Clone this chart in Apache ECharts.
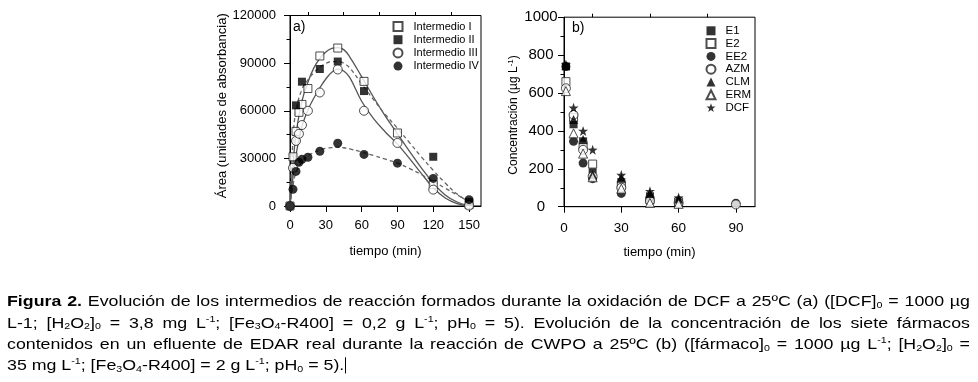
<!DOCTYPE html>
<html><head><meta charset="utf-8">
<script src="https://cdn.jsdelivr.net/npm/echarts@6/dist/echarts.min.js"></script>
<style>
html,body{margin:0;padding:0;background:#fff;}
#chart{position:absolute;left:0;top:0;width:978px;height:382px;}
#cap{position:absolute;left:7px;top:291px;width:963px;font-family:"Liberation Sans",Arial,sans-serif;font-size:17.8px;color:#000;transform:scaleY(0.85);transform-origin:0 0;}
#cap .ln{height:25px;line-height:25px;white-space:nowrap;}
#cap .ln span.t{display:inline-block;white-space:nowrap;}
#cap sub,#cap sup{font-size:0.6em;line-height:0;}
#cap sub{vertical-align:-0.2em;}
#cap sup{vertical-align:0.65em;}
.caret{display:inline-block;width:1px;height:19px;background:#000;vertical-align:-4px;margin-left:1px;}
</style>
</head>
<body>
<div id="chart"></div>
<div id="cap">
<div class="ln"><span class="t j"><b>Figura 2.</b> Evolución de los intermedios de reacción formados durante la oxidación de DCF a 25ºC (a) ([DCF]<sub>0</sub> = 1000 µg</span></div>
<div class="ln"><span class="t j">L-1; [H<sub>2</sub>O<sub>2</sub>]<sub>0</sub> = 3,8 mg L<sup>-1</sup>; [Fe<sub>3</sub>O<sub>4</sub>-R400] = 0,2 g L<sup>-1</sup>; pH<sub>0</sub> = 5). Evolución de la concentración de los siete fármacos</span></div>
<div class="ln"><span class="t j">contenidos en un efluente de EDAR real durante la reacción de CWPO a 25ºC (b) ([fármaco]<sub>0</sub> = 1000 µg L<sup>-1</sup>; [H<sub>2</sub>O<sub>2</sub>]<sub>0</sub> =</span></div>
<div class="ln"><span class="t">35 mg L<sup>-1</sup>; [Fe<sub>3</sub>O<sub>4</sub>-R400] = 2 g L<sup>-1</sup>; pH<sub>0</sub> = 5).</span><span class="caret"></span></div>
</div>
<script>
// ---------- Panel a) data ----------
const timesA = [0, 2.5, 5, 7.5, 10, 15, 25, 40, 62, 90, 120, 150];
const intI   = [0, 31000, 47000, 59000, 64000, 74000, 94500, 99500, 78500, 46000, 13500, 800];
const intIII = [0, 24000, 41000, 45500, 51000, 60000, 71500, 86000, 60000, 39700, 10300, 300];
const intIV  = [0, 10500, 21800, 27500, 29400, 30700, 34500, 39500, 32500, 27000, 17400, 4000];
const timesII = [5, 10, 25, 40, 62, 120, 150];
const intII   = [63400, 78300, 86300, 91000, 72400, 31000, 2500];
// fitted curves
const fitTimes = [0, 2.5, 5, 10, 15, 20, 25, 30, 35, 40, 45, 50, 60, 70, 80, 90, 100, 110, 120, 130, 140, 150];
const fitI   = [0, 26000, 45000, 66000, 78000, 87000, 93000, 97000, 99300, 99800, 98500, 94000, 81500, 68500, 56500, 45500, 34500, 24000, 14500, 7000, 2500, 200];
const fitII  = [0, 42000, 60000, 73500, 79500, 84000, 87500, 89800, 91000, 91000, 90000, 87000, 77000, 67000, 57500, 49000, 40000, 31000, 22500, 14500, 7500, 2500];
const fitIII = [0, 18000, 32000, 50000, 60500, 68000, 74500, 80000, 84300, 86200, 85000, 81000, 66000, 55000, 46500, 39000, 30000, 20500, 11500, 5000, 1500, 0];
const fitIV  = [0, 13000, 21000, 28000, 31500, 33800, 35300, 36300, 36800, 37000, 36700, 36000, 34000, 31800, 29500, 27000, 23700, 19800, 15600, 11200, 7000, 3000];
const ticksA = [0, 30, 60, 90, 120, 150];
const minorA = [15, 45, 75, 105, 135];

// ---------- Panel b) data ----------
const timesB   = [1, 5, 10, 15, 30, 45, 60];
const timesB90 = [1, 5, 10, 15, 30, 45, 60, 90];
const E1  = [740, 435, 345, 182, 130, 55, 25];
const E2  = [660, 470, 325, 225, 115, 35, 25];
const EE2 = [740, 345, 230, 148, 70, 40, 20, 18];
const AZM = [625, 485, 300, 160, 100, 30, 20, 12];
const CLM = [745, 460, 355, 168, 150, 70, 40];
const ERM = [610, 387, 280, 155, 95, 20, 15];
const DCF = [750, 522, 400, 300, 167, 82, 48];
const ticksB = [0, 30, 60, 90];
const minorB = [15, 45, 75];

const FONT = '"Liberation Sans", Arial, sans-serif';
const zip = (xs, ys) => ys.map((v, i) => [xs[i], v]);
const plain = v => String(v);
const STAR = 'path://M0,-10L2.35,-3.24L9.51,-3.09L3.8,1.24L5.88,8.09L0,4L-5.88,8.09L-3.8,1.24L-9.51,-3.09L-2.35,-3.24Z';
const openStyle = {color: '#fff', borderColor: '#222', borderWidth: 1};
const fillStyle = {color: '#000', borderColor: '#000', borderWidth: 0};

function fitLine(data, dashed) {
  return {type: 'line', xAxisIndex: 0, yAxisIndex: 0, data: zip(fitTimes, data), smooth: 0.4,
    showSymbol: false, symbol: 'none', silent: true, z: 2,
    lineStyle: {color: dashed ? '#666' : '#555', width: 1.3, type: dashed ? [4, 3] : 'solid'}};
}
function scat(name, xi, yi, data, symbol, size, style) {
  return {type: 'scatter', name, xAxisIndex: xi, yAxisIndex: yi, data, symbol, symbolSize: size,
    itemStyle: style, z: 3, silent: true};
}
const axisTxt = {color: '#000', fontFamily: FONT, fontSize: 13};
const line = {show: true, lineStyle: {color: '#000', width: 1}};

const option = {
  animation: false,
  backgroundColor: '#fff',
  grid: [
    {left: 290, top: 15.5, width: 191, height: 190.5, show: true, borderColor: '#000', borderWidth: 1},
    {left: 564, top: 17.2, width: 191, height: 189.5, show: true, borderColor: '#000', borderWidth: 1}
  ],
  xAxis: [
    {gridIndex: 0, type: 'value', min: 0, max: 160, interval: 30, name: 'tiempo (min)', nameLocation: 'middle', nameGap: 39,
     nameTextStyle: axisTxt, axisLine: line, axisTick: {show: true, length: 6, customValues: ticksA, lineStyle: {color: '#000'}},
     axisLabel: {customValues: ticksA, margin: 13, formatter: plain, ...axisTxt}, splitLine: {show: false}},
    {gridIndex: 1, type: 'value', min: 0, max: 100, interval: 30, name: 'tiempo (min)', nameLocation: 'middle', nameGap: 39,
     nameTextStyle: axisTxt, axisLine: line, axisTick: {show: true, length: 6, customValues: ticksB, lineStyle: {color: '#000'}},
     axisLabel: {customValues: ticksB, margin: 15, formatter: plain, ...axisTxt, fontSize: 13.5}, splitLine: {show: false}},
    {gridIndex: 0, type: 'value', min: 0, max: 160, axisLine: {show: false}, axisLabel: {show: false}, splitLine: {show: false},
     axisTick: {show: true, length: 3.5, customValues: minorA, lineStyle: {color: '#000'}}},
    {gridIndex: 1, type: 'value', min: 0, max: 100, axisLine: {show: false}, axisLabel: {show: false}, splitLine: {show: false},
     axisTick: {show: true, length: 3.5, customValues: minorB, lineStyle: {color: '#000'}}}
  ],
  yAxis: [
    {gridIndex: 0, type: 'value', min: 0, max: 120000, interval: 30000, name: 'Área (unidades de absorbancia)', nameLocation: 'middle',
     nameRotate: 90, nameGap: 57, nameTextStyle: {...axisTxt, padding: [0, 0, 0, 10]}, axisLine: line,
     axisTick: {show: true, length: 6, lineStyle: {color: '#000'}},
     minorTick: {show: true, splitNumber: 2, length: 3.5, lineStyle: {color: '#000'}},
     axisLabel: {margin: 14, formatter: plain, ...axisTxt}, splitLine: {show: false}, minorSplitLine: {show: false}},
    {gridIndex: 1, type: 'value', min: 0, max: 1000, interval: 200, name: 'Concentración (µg L{sup|-1})', nameLocation: 'middle',
     nameRotate: 90, nameGap: 43,
     nameTextStyle: {...axisTxt, fontSize: 12, padding: [0, 6, 0, 0], rich: {sup: {fontSize: 8, fontFamily: FONT, color: '#000', verticalAlign: 'top', padding: [0, 0, 6, 0]}}},
     axisLine: line, axisTick: {show: true, length: 6, lineStyle: {color: '#000'}},
     minorTick: {show: true, splitNumber: 2, length: 3.5, lineStyle: {color: '#000'}},
     axisLabel: {margin: 23, align: 'center', formatter: plain, ...axisTxt, fontSize: 15}, splitLine: {show: false}, minorSplitLine: {show: false}}
  ],
  legend: [
    {data: ['Intermedio I', 'Intermedio II', 'Intermedio III', 'Intermedio IV'], orient: 'vertical', left: 392.5, top: 20.5,
     padding: 0, itemWidth: 9, itemHeight: 9, itemGap: 1.2, selectedMode: false,
     textStyle: {fontFamily: FONT, fontSize: 11, color: '#000', lineHeight: 12, padding: [0, 0, 0, 6]}},
    {data: ['E1', 'E2', 'EE2', 'AZM', 'CLM', 'ERM', 'DCF'], orient: 'vertical', left: 705.5, top: 24.8,
     padding: 0, itemWidth: 9, itemHeight: 9, itemGap: 0.8, selectedMode: false,
     textStyle: {fontFamily: FONT, fontSize: 11.5, color: '#000', lineHeight: 12, padding: [0, 0, 0, 5]}}
  ],
  graphic: [
    {type: 'text', left: 293, top: 20, style: {text: 'a)', fontFamily: FONT, fontSize: 14, fill: '#000'}},
    {type: 'text', left: 572, top: 21, style: {text: 'b)', fontFamily: FONT, fontSize: 14, fill: '#000'}}
  ],
  series: [
    fitLine(fitI, false), fitLine(fitII, true), fitLine(fitIII, false), fitLine(fitIV, true),
    scat('Intermedio I', 0, 0, zip(timesA, intI), 'rect', 8, openStyle),
    scat('Intermedio II', 0, 0, zip(timesII, intII), 'rect', 8, fillStyle),
    scat('Intermedio III', 0, 0, zip(timesA, intIII), 'circle', 9, openStyle),
    scat('Intermedio IV', 0, 0, zip(timesA, intIV), 'circle', 9, fillStyle),
    scat('E1', 1, 1, zip(timesB, E1), 'rect', 8, fillStyle),
    scat('E2', 1, 1, zip(timesB, E2), 'rect', 8, openStyle),
    scat('EE2', 1, 1, zip(timesB90, EE2), 'circle', 9, fillStyle),
    scat('AZM', 1, 1, zip(timesB90, AZM), 'circle', 9, openStyle),
    scat('CLM', 1, 1, zip(timesB, CLM), 'triangle', 9, fillStyle),
    scat('ERM', 1, 1, zip(timesB, ERM), 'triangle', 9, openStyle),
    scat('DCF', 1, 1, zip(timesB, DCF), STAR, 10, fillStyle)
  ]
};
const chart = echarts.init(document.getElementById('chart'), null, {renderer: 'canvas'});
chart.setOption(option);

// justify caption lines to the full width
document.querySelectorAll('#cap .j').forEach(el => {
  const w = el.getBoundingClientRect().width;
  const n = (el.textContent.match(/ /g) || []).length;
  if (n > 0) el.style.wordSpacing = ((963 - w) / n) + 'px';
});
</script>
</body></html>
